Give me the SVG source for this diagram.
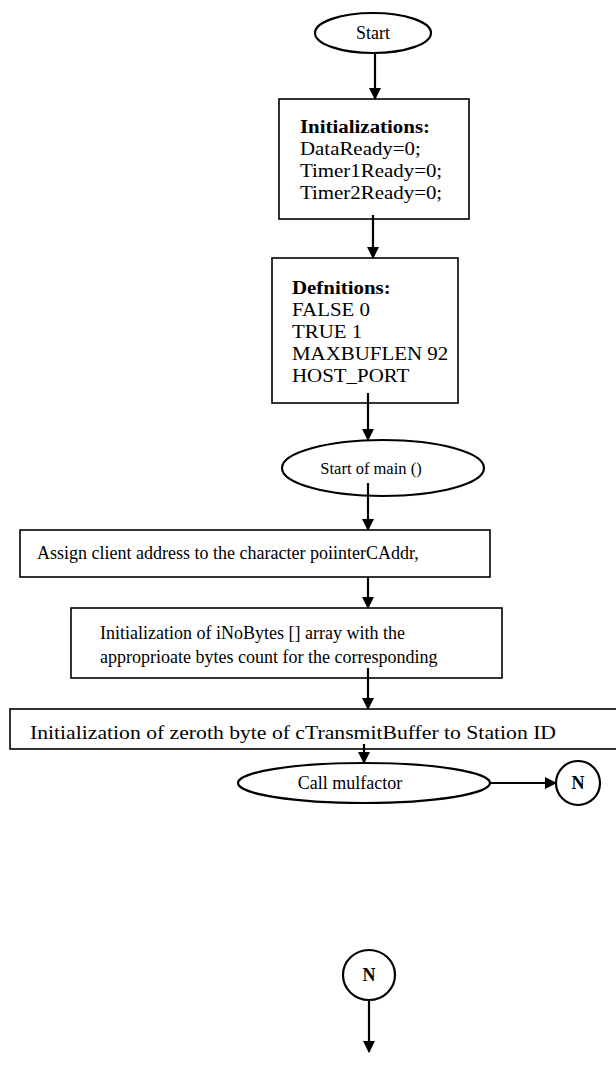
<svg xmlns="http://www.w3.org/2000/svg" width="616" height="1082" viewBox="0 0 616 1082">
  <style>
    .shape { fill: #fff; stroke: #000; stroke-width: 1.6; }
    .oval { fill: #fff; stroke: #000; stroke-width: 2.2; }
    .t { font-family: "Liberation Serif", "Times New Roman", serif; font-size: 18px; fill: #000; }
    .lg { font-size: 19px; }
    .sm { font-size: 16.5px; }
    .b { font-weight: bold; }
    .wire { stroke: #000; stroke-width: 2.2; fill: none; }
  </style>
  <defs>
    <marker id="arrow" markerWidth="12" markerHeight="12" refX="11" refY="6" orient="auto" markerUnits="userSpaceOnUse">
      <path d="M0,0 L12,6 L0,12 Z" fill="#000"/>
    </marker>
  </defs>

  <g id="start">
    <ellipse class="oval" cx="373" cy="33" rx="58" ry="20"/>
    <text class="t" x="373" y="39" text-anchor="middle">Start</text>
  </g>

  <g id="initializations">
    <rect class="shape" x="279" y="99" width="190" height="120"/>
    <!-- slightly widened lettering, anchored at x=300 -->
    <g transform="matrix(1.1 0 0 1 -30 0)">
      <text class="t lg b" x="300" y="133">Initializations:</text>
      <text class="t lg" x="300" y="155">DataReady=0;</text>
      <text class="t lg" x="300" y="177">Timer1Ready=0;</text>
      <text class="t lg" x="300" y="199">Timer2Ready=0;</text>
    </g>
  </g>

  <g id="definitions">
    <rect class="shape" x="272" y="258" width="186" height="145"/>
    <!-- slightly widened lettering, anchored at x=292 -->
    <g transform="matrix(1.1 0 0 1 -29.2 0)">
      <text class="t lg b" x="292" y="294">Defnitions:</text>
      <text class="t lg" x="292" y="316">FALSE 0</text>
      <text class="t lg" x="292" y="338">TRUE 1</text>
      <text class="t lg" x="292" y="360">MAXBUFLEN 92</text>
      <text class="t lg" x="292" y="382">HOST_PORT</text>
    </g>
  </g>

  <g id="main">
    <ellipse class="oval" cx="383" cy="468" rx="101" ry="28"/>
    <text class="t sm" x="371" y="474" text-anchor="middle">Start of main ()</text>
  </g>

  <g id="assign-client">
    <rect class="shape" x="20" y="530" width="470" height="47"/>
    <text class="t" x="37" y="559">Assign client address to the character poiinterCAddr,</text>
  </g>

  <g id="init-nobytes">
    <rect class="shape" x="71" y="608" width="431" height="70"/>
    <text class="t" x="100" y="639">Initialization of iNoBytes [] array with the</text>
    <text class="t" x="100" y="663">approprioate bytes count for the corresponding</text>
  </g>

  <g id="init-buffer">
    <rect class="shape" x="10" y="709" width="620" height="40"/>
    <text class="t lg" x="30" y="739" textLength="526" lengthAdjust="spacingAndGlyphs">Initialization of zeroth byte of cTransmitBuffer to Station ID</text>
  </g>

  <g id="call-mulfactor">
    <ellipse class="oval" cx="364" cy="783" rx="126" ry="20"/>
    <text class="t" x="350" y="789" text-anchor="middle">Call mulfactor</text>
  </g>

  <g id="connector-out">
    <circle class="oval" cx="578" cy="783" r="22"/>
    <text class="t b" x="578" y="789" font-size="17" text-anchor="middle">N</text>
  </g>

  <g id="connector-in">
    <ellipse class="oval" cx="369" cy="975" rx="26" ry="25"/>
    <text class="t b" x="369" y="981" font-size="17" text-anchor="middle">N</text>
  </g>

  <g id="connectors">
    <line class="wire" x1="375" y1="52" x2="375" y2="99" marker-end="url(#arrow)"/>
    <line class="wire" x1="373" y1="215" x2="373" y2="258" marker-end="url(#arrow)"/>
    <line class="wire" x1="368" y1="393" x2="368" y2="440" marker-end="url(#arrow)"/>
    <line class="wire" x1="368" y1="483" x2="368" y2="530" marker-end="url(#arrow)"/>
    <line class="wire" x1="368" y1="577" x2="368" y2="608" marker-end="url(#arrow)"/>
    <line class="wire" x1="368" y1="668" x2="368" y2="709" marker-end="url(#arrow)"/>
    <line class="wire" x1="364" y1="744" x2="364" y2="763" marker-end="url(#arrow)"/>
    <line class="wire" x1="489" y1="783" x2="556" y2="783" marker-end="url(#arrow)"/>
    <line class="wire" x1="369" y1="1000" x2="369" y2="1052" marker-end="url(#arrow)"/>
  </g>
</svg>
